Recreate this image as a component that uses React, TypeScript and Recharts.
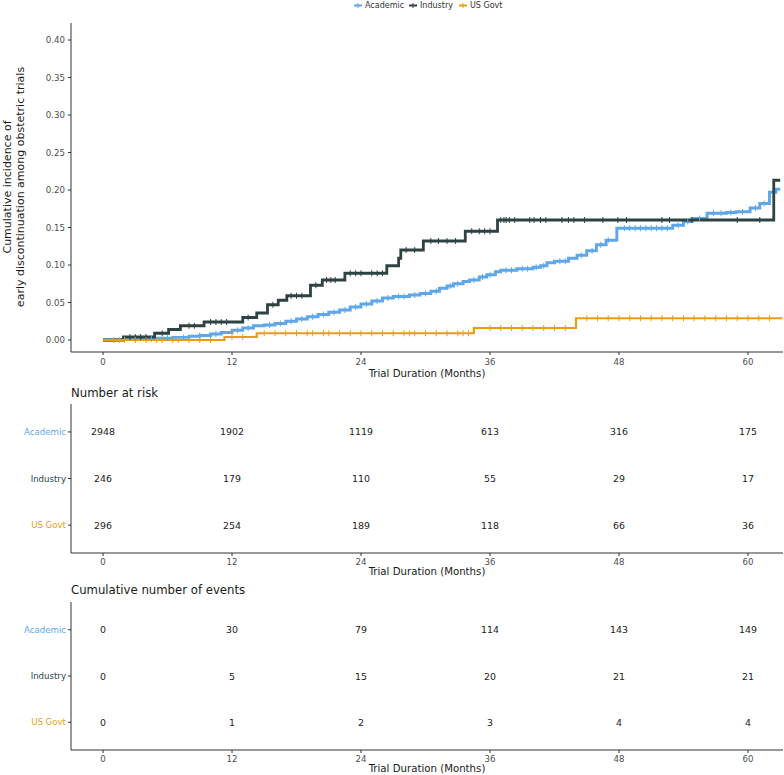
import React from 'react';
import { ComposedChart, Line, Scatter, XAxis, YAxis, Label } from 'recharts';

const FONT = '"DejaVu Sans", "Noto Sans", sans-serif';
const C_ACAD = '#5DA7EA';
const C_IND = '#2E4242';
const C_GOV = '#E69F0F';

const groups = ['Academic', 'Industry', 'US Govt'];
const groupColors = [C_ACAD, C_IND, C_GOV];
const monthTicks = [0, 12, 24, 36, 48, 60];
const incidenceTicks = [0, 0.05, 0.1, 0.15, 0.2, 0.25, 0.3, 0.35, 0.4];

// Cumulative incidence step curves (time in months, value)
const academicT = [0, 1.1, 3.0, 5.0, 6.5, 8.0, 9.0, 10.0, 11.0, 12.0, 13.0, 14.0, 15.0, 16.0, 17.0, 18.0, 19.0, 20.0, 21.0, 22.0, 23.0, 24.0, 25.0, 26.0, 27.0, 28.5, 29.5, 30.5, 31.3, 32.0, 32.6, 33.5, 34.1, 35.0, 35.7, 36.5, 37.0, 38.5, 40.0, 40.7, 41.3, 42.0, 43.3, 44.1, 45.0, 45.9, 46.8, 47.8, 53.0, 54.0, 54.8, 56.2, 58.0, 58.9, 60.2, 61.1, 62.0, 62.6, 63.0];
const academicV = [0, 0.0005, 0.0015, 0.0025, 0.0035, 0.005, 0.006, 0.008, 0.010, 0.013, 0.016, 0.019, 0.020, 0.022, 0.025, 0.028, 0.031, 0.034, 0.037, 0.040, 0.044, 0.048, 0.052, 0.056, 0.058, 0.060, 0.062, 0.065, 0.069, 0.072, 0.075, 0.078, 0.080, 0.084, 0.087, 0.091, 0.093, 0.095, 0.097, 0.099, 0.103, 0.105, 0.109, 0.113, 0.119, 0.127, 0.133, 0.149, 0.153, 0.158, 0.162, 0.169, 0.170, 0.171, 0.176, 0.182, 0.197, 0.201, 0.201];

const industryT = [0, 1.9, 4.8, 6.1, 7.2, 9.4, 13.0, 14.3, 15.3, 16.3, 17.1, 19.3, 20.4, 22.5, 26.4, 27.5, 27.7, 29.8, 33.7, 36.7, 62.4, 63.0];
const industryV = [0, 0.004, 0.009, 0.014, 0.019, 0.024, 0.030, 0.036, 0.047, 0.053, 0.059, 0.073, 0.080, 0.089, 0.099, 0.109, 0.120, 0.132, 0.145, 0.160, 0.213, 0.213];

const govtT = [0, 11.3, 14.3, 34.5, 44.0, 63.2];
const govtV = [0, 0.004, 0.009, 0.016, 0.029, 0.029];

// Censoring times (months)
const academicCensor = [2, 3, 4.5, 6, 7.5, 9, 10.5, 12.5, 13.5, 15.5, 16.5, 17.5, 18.5, 19.5, 20.5, 21.5, 22.5, 23.5, 24.5, 25.5, 26.5, 27.5, 28, 29, 30, 31, 32.3, 33, 34.5, 35.3, 36, 37.5, 38, 39, 39.5, 40.3, 41, 42.5, 43, 44.5, 45.5, 46.3, 47, 48.5, 49, 49.5, 50, 50.5, 51, 51.5, 52, 52.5, 53.5, 54.4, 55.5, 56.8, 57.5, 58.4, 59.5, 60.7, 61.5];
const industryCensor = [2.5, 3, 3.5, 4, 5.5, 8, 8.5, 10, 10.5, 11, 11.5, 13.5, 15.8, 17.5, 18, 18.5, 19.8, 20.8, 21.2, 21.6, 23, 23.5, 24, 25, 25.5, 26, 28.2, 29, 30.5, 31.2, 32, 32.8, 34.3, 35, 35.5, 36, 37, 37.3, 37.5, 37.8, 38.3, 39.7, 40.1, 40.7, 41.2, 42.7, 43.3, 43.8, 44.8, 46.5, 47.9, 48.7, 52, 52.7, 54.8, 59, 61.1];
const govtCensor = [1, 1.5, 2, 3, 4, 5, 5.5, 6.5, 7, 8, 9, 10, 12, 13, 15, 16, 17, 18, 19, 19.5, 20.5, 21, 22, 23, 24, 25, 26, 27, 28, 28.5, 29, 30, 31, 32, 33, 33.5, 34, 36, 37, 38, 39, 40, 41, 42, 43, 45, 46, 47, 48, 49, 50, 51, 52, 53, 54, 55, 56, 57, 58, 59, 60, 61, 62];

// Tables
const tableTimes = [0, 12, 24, 36, 48, 60];
const riskAcademic = [2948, 1902, 1119, 613, 316, 175];
const riskIndustry = [246, 179, 110, 55, 29, 17];
const riskGovt = [296, 254, 189, 118, 66, 36];
const eventsAcademic = [0, 30, 79, 114, 143, 149];
const eventsIndustry = [0, 5, 15, 20, 21, 21];
const eventsGovt = [0, 1, 2, 3, 4, 4];

const X_DOMAIN: [number, number] = [-2.98, 63.26];

function toSeries(ts: number[], vs: number[]) {
  return ts.map((t, i) => ({ t, v: vs[i] }));
}
function stepAt(ts: number[], vs: number[], t: number) {
  let v = vs[0];
  for (let i = 0; i < ts.length; i++) if (ts[i] <= t) v = vs[i];
  return v;
}
function censorSeries(cs: number[], ts: number[], vs: number[]) {
  return cs.map((t) => ({ t, v: stepAt(ts, vs, t) }));
}

const censorShape = (color: string, h: number) => (props: any) => {
  if (props.cx == null || props.cy == null) return <g />;
  return <line x1={props.cx} x2={props.cx} y1={props.cy - h} y2={props.cy + h} stroke={color} strokeWidth={1} />;
};

const axisStroke = '#333333';
const tickStyle = { fontSize: 8.6, fill: '#4D4D4D', fontFamily: FONT };

function MainChart() {
  return (
    <ComposedChart width={784} height={385} margin={{ top: 23, right: 1, bottom: 0, left: 0 }}>
      <XAxis
        type="number"
        dataKey="t"
        domain={X_DOMAIN}
        allowDataOverflow
        ticks={monthTicks}
        interval={0}
        height={33}
        tickSize={3}
        tickMargin={4}
        axisLine={{ stroke: axisStroke }}
        tickLine={{ stroke: axisStroke }}
        tick={tickStyle}
      >
        <Label
          content={() => (
            <text x={427} y={377} textAnchor="middle" fontFamily={FONT} fontSize={10.2} fill="#1a1a1a">
              Trial Duration (Months)
            </text>
          )}
        />
      </XAxis>
      <YAxis
        type="number"
        dataKey="v"
        domain={[-0.016, 0.4227]}
        allowDataOverflow
        ticks={incidenceTicks}
        interval={0}
        width={71}
        tickSize={3}
        tickMargin={3}
        tickFormatter={(v: number) => v.toFixed(2)}
        axisLine={{ stroke: axisStroke }}
        tickLine={{ stroke: axisStroke }}
        tick={tickStyle}
      >
        <Label
          content={() => (
            <g fontFamily={FONT} fontSize={11} fill="#1a1a1a">
              <text x={7} y={187} transform="rotate(-90 7 187)" textAnchor="middle" dominantBaseline="central">
                Cumulative incidence of
              </text>
              <text x={20} y={187} transform="rotate(-90 20 187)" textAnchor="middle" dominantBaseline="central">
                early discontinuation among obstetric trials
              </text>
            </g>
          )}
        />
      </YAxis>
      <Line data={toSeries(academicT, academicV)} dataKey="v" type="stepAfter" stroke={C_ACAD} strokeWidth={2.9} dot={false} isAnimationActive={false} />
      <Scatter data={censorSeries(academicCensor, academicT, academicV)} dataKey="v" fill={C_ACAD} shape={censorShape(C_ACAD, 3)} isAnimationActive={false} />
      <Line data={toSeries(industryT, industryV)} dataKey="v" type="stepAfter" stroke={C_IND} strokeWidth={2.8} dot={false} isAnimationActive={false} />
      <Scatter data={censorSeries(industryCensor, industryT, industryV)} dataKey="v" fill={C_IND} shape={censorShape(C_IND, 3)} isAnimationActive={false} />
      <Line data={toSeries(govtT, govtV)} dataKey="v" type="stepAfter" stroke={C_GOV} strokeWidth={2.2} dot={false} isAnimationActive={false} />
      <Scatter data={censorSeries(govtCensor, govtT, govtV)} dataKey="v" fill={C_GOV} shape={censorShape(C_GOV, 3)} isAnimationActive={false} />
    </ComposedChart>
  );
}

const textShape = (props: any) => {
  if (props.cx == null || props.cy == null) return <g />;
  return (
    <text x={props.cx} y={props.cy} textAnchor="middle" dominantBaseline="central" fontFamily={FONT} fontSize={9.4} fill="#1a1a1a">
      {props.payload.n}
    </text>
  );
};

const groupTick = (props: any) => {
  const idx = 3 - props.payload.value;
  return (
    <text x={props.x} y={props.y} textAnchor="end" dominantBaseline="central" fontFamily={FONT} fontSize={8.6} fill={groupColors[idx]}>
      {groups[idx]}
    </text>
  );
};

function TableChart(p: { title: string; top: number; height: number; marginTop: number; axisH: number; titleY: number; xTitleY: number; a: number[]; i: number[]; g: number[] }) {
  const rows = [p.a, p.i, p.g];
  return (
    <div style={{ position: 'absolute', left: 0, top: p.top, width: 784, height: p.height }}>
      <div style={{ position: 'absolute', left: 71, top: p.titleY, fontFamily: FONT, fontSize: 11.7, color: '#1a1a1a', lineHeight: '14px', whiteSpace: 'nowrap' }}>
        {p.title}
      </div>
      <ComposedChart width={784} height={p.height} margin={{ top: p.marginTop, right: 1, bottom: 0, left: 0 }}>
        <XAxis
          type="number"
          dataKey="t"
          domain={X_DOMAIN}
          allowDataOverflow
          ticks={monthTicks}
          interval={0}
          height={p.axisH}
          tickSize={3}
          tickMargin={3}
          axisLine={{ stroke: axisStroke }}
          tickLine={{ stroke: axisStroke }}
          tick={tickStyle}
        >
          <Label
            content={() => (
              <text x={427} y={p.xTitleY} textAnchor="middle" fontFamily={FONT} fontSize={10.2} fill="#1a1a1a">
                Trial Duration (Months)
              </text>
            )}
          />
        </XAxis>
        <YAxis
          type="number"
          dataKey="row"
          domain={[0.4, 3.6]}
          allowDataOverflow
          ticks={[1, 2, 3]}
          interval={0}
          width={71}
          tickSize={3}
          tickMargin={2}
          axisLine={{ stroke: axisStroke }}
          tickLine={{ stroke: axisStroke }}
          tick={groupTick}
        />
        {rows.map((vals, r) => (
          <Scatter
            key={groups[r]}
            data={tableTimes.map((t, k) => ({ t, row: 3 - r, n: vals[k] }))}
            dataKey="row"
            fill="#1a1a1a"
            shape={textShape}
            isAnimationActive={false}
          />
        ))}
      </ComposedChart>
    </div>
  );
}

function LegendItem(p: { left: number; color: string; label: string }) {
  return (
    <div style={{ position: 'absolute', left: p.left, top: 0, height: 11, display: 'flex', alignItems: 'center', fontFamily: FONT, fontSize: 8, color: '#333', whiteSpace: 'nowrap' }}>
      <svg width={8} height={9} style={{ marginRight: 3 }}>
        <line x1={0} x2={8} y1={4.5} y2={4.5} stroke={p.color} strokeWidth={2} />
        <line x1={4} x2={4} y1={2} y2={7} stroke={p.color} strokeWidth={1} />
      </svg>
      <span>{p.label}</span>
    </div>
  );
}

export default function App() {
  return (
    <div style={{ position: 'absolute', left: 0, top: 0, width: 784, height: 775, background: '#fff', overflow: 'hidden' }}>
      <div style={{ position: 'absolute', left: 0, top: 0 }}>
        <MainChart />
      </div>
      <LegendItem left={354} color={C_ACAD} label="Academic" />
      <LegendItem left={409} color={C_IND} label="Industry" />
      <LegendItem left={459} color={C_GOV} label="US Govt" />
      <TableChart title="Number at risk" top={380} height={201} marginTop={24} axisH={28} titleY={6} xTitleY={195} a={riskAcademic} i={riskIndustry} g={riskGovt} />
      <TableChart title="Cumulative number of events" top={577} height={198} marginTop={25} axisH={25} titleY={6} xTitleY={195} a={eventsAcademic} i={eventsIndustry} g={eventsGovt} />
    </div>
  );
}
